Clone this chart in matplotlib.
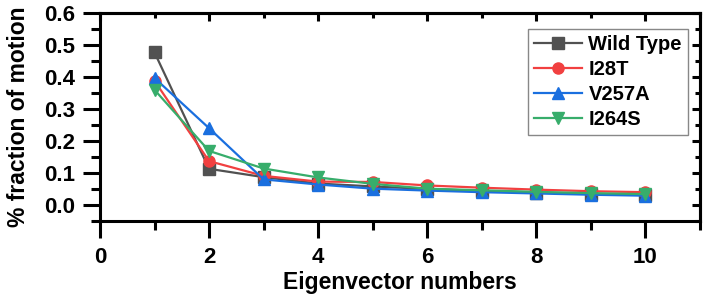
import matplotlib
matplotlib.use("Agg")
import matplotlib.pyplot as plt
from matplotlib.ticker import MultipleLocator

# eigenvector index and fraction of motion per variant
eig = [1, 2, 3, 4, 5, 6, 7, 8, 9, 10]
wild_type = [0.477, 0.113, 0.087, 0.067, 0.058, 0.050, 0.044, 0.039, 0.035, 0.031]
i28t = [0.388, 0.137, 0.091, 0.073, 0.072, 0.061, 0.054, 0.048, 0.043, 0.040]
v257a = [0.397, 0.240, 0.080, 0.064, 0.051, 0.045, 0.040, 0.036, 0.032, 0.029]
i264s = [0.360, 0.169, 0.114, 0.086, 0.066, 0.051, 0.046, 0.041, 0.037, 0.034]

series = [
    ("Wild Type", wild_type, "#515151", "s"),
    ("I28T", i28t, "#F14040", "o"),
    ("V257A", v257a, "#1A6FDF", "^"),
    ("I264S", i264s, "#37AD6B", "v"),
]

plt.rcParams["font.family"] = ["Liberation Sans", "DejaVu Sans"]
plt.rcParams["font.weight"] = "bold"

fig = plt.figure(figsize=(7.06, 2.97), dpi=100)
ax = fig.add_axes([0.1416, 0.256, 0.8499, 0.700])

for name, vals, color, marker in series:
    ax.plot(eig, vals, color=color, marker=marker, markersize=8, lw=1.6,
            label=name)

ax.set_xlim(0, 11)
ax.set_ylim(-0.05, 0.6)
ax.xaxis.set_major_locator(MultipleLocator(2))
ax.xaxis.set_minor_locator(MultipleLocator(1))
ax.yaxis.set_major_locator(MultipleLocator(0.1))
ax.yaxis.set_minor_locator(MultipleLocator(0.05))
ax.yaxis.set_major_formatter(plt.FuncFormatter(lambda v, p: f"{v:.1f}"))

for s in ax.spines.values():
    s.set_linewidth(2.2)
ax.tick_params(which="major", direction="out", length=12, width=2.2,
               labelsize=16)
ax.tick_params(axis="x", which="major", pad=7)
ax.tick_params(axis="y", which="major", pad=6)
ax.tick_params(which="minor", direction="out", length=6.5, width=2.2)
for lab in ax.get_xticklabels() + ax.get_yticklabels():
    lab.set_fontweight("bold")

# inward ticks on the top and right frame
top = ax.secondary_xaxis("top")
right = ax.secondary_yaxis("right")
for sec in (top, right):
    sec.tick_params(which="major", direction="in", length=6, width=2.2,
                    labelsize=0)
    sec.tick_params(which="minor", direction="in", length=3.5, width=2.2)
    for s in sec.spines.values():
        s.set_linewidth(2.2)
top.xaxis.set_major_locator(MultipleLocator(2))
top.xaxis.set_minor_locator(MultipleLocator(1))
top.set_xticklabels([])
right.yaxis.set_major_locator(MultipleLocator(0.1))
right.yaxis.set_minor_locator(MultipleLocator(0.05))
right.set_yticklabels([])

ax.set_xlabel("Eigenvector numbers", fontsize=16.5, fontweight="bold",
              labelpad=2)
ax.set_ylabel("% fraction of motion", fontsize=16.5, fontweight="bold",
              labelpad=10)

leg = ax.legend(loc="upper right", bbox_to_anchor=(0.98, 0.925),
                prop={"weight": "bold", "size": 14.5}, fancybox=False,
                edgecolor="#888888", framealpha=1, handlelength=2.4,
                borderpad=0.3, labelspacing=0.3, handletextpad=0.3,
                borderaxespad=0)
leg.get_frame().set_linewidth(1.0)

fig.savefig("out.png", dpi=100)
